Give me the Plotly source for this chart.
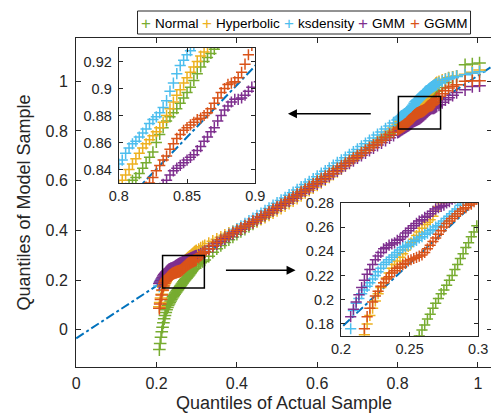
import plotly.graph_objects as go

# sorted quantiles of the actual sample (same x for every model)
actual_q = [0.207, 0.209, 0.211, 0.213, 0.215, 0.217, 0.219, 0.221, 0.223, 0.225,
            0.227, 0.229, 0.231, 0.233, 0.235, 0.237, 0.239, 0.241, 0.243, 0.245,
            0.247, 0.249, 0.251, 0.253, 0.255, 0.257, 0.259, 0.261, 0.263, 0.265,
            0.267, 0.269, 0.271, 0.273, 0.275, 0.277, 0.279, 0.281, 0.283, 0.285,
            0.287, 0.289, 0.291, 0.293, 0.295, 0.297, 0.299,
            0.305, 0.31, 0.315, 0.32, 0.33, 0.34, 0.35, 0.36, 0.37, 0.38, 0.39, 0.40,
            0.41, 0.42, 0.43, 0.44, 0.45, 0.46, 0.47, 0.48, 0.49, 0.50,
            0.51, 0.52, 0.53, 0.54, 0.55, 0.56, 0.57, 0.58, 0.59, 0.60,
            0.61, 0.62, 0.63, 0.64, 0.65, 0.66, 0.67, 0.68, 0.69, 0.70,
            0.71, 0.72, 0.73, 0.74, 0.75, 0.76, 0.77, 0.78, 0.79,
            0.8000, 0.8025, 0.8050, 0.8075, 0.8100, 0.8125, 0.8150, 0.8175, 0.8200, 0.8225,
            0.8250, 0.8275, 0.8300, 0.8325, 0.8350, 0.8375, 0.8400, 0.8425, 0.8450, 0.8475,
            0.8500, 0.8525, 0.8550, 0.8575, 0.8600, 0.8625, 0.8650, 0.8675, 0.8700, 0.8725,
            0.8750, 0.8775, 0.8800, 0.8825, 0.8850, 0.8875, 0.8900, 0.8925, 0.8950, 0.8975,
            0.903, 0.911, 0.919, 0.927, 0.937, 0.947, 0.968, 0.986, 1.004]

# quantiles of each model sample
normal_q = [-0.080, -0.055, -0.030, -0.008, 0.010, 0.028, 0.044, 0.057, 0.069, 0.080,
            0.089, 0.097, 0.104, 0.110, 0.116, 0.122, 0.128, 0.133, 0.138, 0.143,
            0.148, 0.152, 0.157, 0.161, 0.166, 0.170, 0.175, 0.179, 0.184, 0.188,
            0.193, 0.197, 0.201, 0.205, 0.208, 0.212, 0.216, 0.220, 0.225, 0.229,
            0.234, 0.238, 0.243, 0.247, 0.252, 0.256, 0.261,
            0.267, 0.270, 0.275, 0.281, 0.296, 0.312, 0.326, 0.339, 0.351, 0.362, 0.373, 0.384,
            0.395, 0.405, 0.416, 0.426, 0.437, 0.447, 0.458, 0.469, 0.479, 0.490,
            0.501, 0.511, 0.522, 0.533, 0.544, 0.554, 0.565, 0.576, 0.586, 0.597,
            0.607, 0.618, 0.628, 0.639, 0.650, 0.660, 0.671, 0.681, 0.692, 0.702,
            0.713, 0.724, 0.735, 0.746, 0.757, 0.768, 0.779, 0.790, 0.801,
            0.818, 0.822, 0.826, 0.829, 0.832, 0.834, 0.837, 0.841, 0.845, 0.849,
            0.853, 0.860, 0.866, 0.871, 0.876, 0.879, 0.882, 0.885, 0.889, 0.893,
            0.897, 0.901, 0.906, 0.911, 0.916, 0.920, 0.923, 0.926, 0.929, 0.933,
            0.937, 0.941, 0.945, 0.949, 0.952, 0.955, 0.958, 0.960, 0.961, 0.962,
            0.964, 0.975, 0.995, 1.013, 1.016, 1.020, 1.066, 1.069, 1.073]

hyperbolic_q = [0.092, 0.110, 0.128, 0.143, 0.158, 0.171, 0.180, 0.187, 0.193, 0.199,
                0.205, 0.210, 0.214, 0.218, 0.222, 0.226, 0.229, 0.232, 0.235, 0.238,
                0.241, 0.244, 0.247, 0.250, 0.253, 0.256, 0.259, 0.262, 0.264, 0.266,
                0.269, 0.273, 0.277, 0.280, 0.283, 0.286, 0.289, 0.292, 0.295, 0.298,
                0.301, 0.304, 0.307, 0.310, 0.313, 0.315, 0.318,
                0.323, 0.329, 0.334, 0.338, 0.347, 0.356, 0.364, 0.372, 0.380, 0.388, 0.395, 0.402,
                0.409, 0.416, 0.423, 0.430, 0.437, 0.445, 0.453, 0.462, 0.471, 0.480,
                0.489, 0.499, 0.509, 0.519, 0.529, 0.540, 0.551, 0.561, 0.572, 0.583,
                0.593, 0.604, 0.615, 0.626, 0.637, 0.648, 0.661, 0.674, 0.686, 0.698,
                0.710, 0.722, 0.735, 0.747, 0.760, 0.773, 0.786, 0.799, 0.812,
                0.828, 0.832, 0.836, 0.840, 0.844, 0.848, 0.852, 0.856, 0.859, 0.862,
                0.865, 0.868, 0.871, 0.875, 0.880, 0.885, 0.890, 0.895, 0.899, 0.904,
                0.908, 0.912, 0.916, 0.920, 0.924, 0.927, 0.931, 0.935, 0.940, 0.945,
                0.950, 0.955, 0.961, 0.966, 0.972, 0.977, 0.982, 0.986, 0.991, 0.994,
                0.998, 1.004, 1.008, 1.012, 1.016, 1.020, 1.028, 1.036, 1.045]

ksdensity_q = [0.176, 0.191, 0.197, 0.201, 0.205, 0.208, 0.211, 0.214, 0.217, 0.220,
               0.223, 0.226, 0.229, 0.231, 0.233, 0.235, 0.237, 0.239, 0.241, 0.243,
               0.244, 0.245, 0.246, 0.248, 0.249, 0.251, 0.252, 0.254, 0.255, 0.257,
               0.258, 0.260, 0.261, 0.263, 0.265, 0.267, 0.269, 0.271, 0.273, 0.275,
               0.278, 0.280, 0.282, 0.284, 0.286, 0.288, 0.290,
               0.297, 0.303, 0.309, 0.315, 0.327, 0.339, 0.350, 0.361, 0.372, 0.383, 0.394, 0.404,
               0.415, 0.425, 0.436, 0.446, 0.457, 0.467, 0.478, 0.488, 0.499, 0.509,
               0.520, 0.530, 0.541, 0.551, 0.562, 0.573, 0.584, 0.594, 0.605, 0.616,
               0.627, 0.638, 0.649, 0.660, 0.671, 0.681, 0.692, 0.703, 0.714, 0.725,
               0.737, 0.748, 0.760, 0.772, 0.784, 0.796, 0.808, 0.820, 0.832,
               0.844, 0.847, 0.852, 0.856, 0.859, 0.861, 0.864, 0.867, 0.870, 0.874,
               0.877, 0.879, 0.882, 0.886, 0.891, 0.898, 0.904, 0.911, 0.917, 0.921,
               0.925, 0.928, 0.932, 0.936, 0.939, 0.944, 0.948, 0.953, 0.957, 0.960,
               0.963, 0.967, 0.970, 0.973, 0.976, 0.979, 0.981, 0.984, 0.986, 0.989,
               0.993, 0.999, 1.006, 1.010, 1.014, 1.019, 1.026, 1.032, 1.038]

gmm_q = [0.186, 0.192, 0.198, 0.204, 0.210, 0.216, 0.221, 0.225, 0.229, 0.233,
         0.236, 0.239, 0.242, 0.243, 0.245, 0.246, 0.247, 0.249, 0.250, 0.252,
         0.255, 0.257, 0.259, 0.261, 0.263, 0.265, 0.266, 0.268, 0.269, 0.271,
         0.273, 0.275, 0.276, 0.277, 0.278, 0.280, 0.281, 0.283, 0.284, 0.286,
         0.287, 0.289, 0.290, 0.292, 0.293, 0.295, 0.296,
         0.300, 0.305, 0.310, 0.315, 0.325, 0.336, 0.346, 0.356, 0.366, 0.376, 0.386, 0.395,
         0.404, 0.413, 0.423, 0.432, 0.442, 0.451, 0.461, 0.470, 0.480, 0.489,
         0.499, 0.508, 0.518, 0.528, 0.538, 0.548, 0.558, 0.568, 0.578, 0.588,
         0.598, 0.608, 0.619, 0.629, 0.640, 0.650, 0.661, 0.671, 0.681, 0.692,
         0.702, 0.712, 0.722, 0.733, 0.743, 0.753, 0.763, 0.773, 0.783,
         0.795, 0.797, 0.800, 0.803, 0.806, 0.808, 0.811, 0.813, 0.816, 0.818,
         0.821, 0.823, 0.826, 0.829, 0.832, 0.836, 0.839, 0.841, 0.843, 0.845,
         0.847, 0.849, 0.851, 0.854, 0.857, 0.861, 0.864, 0.868, 0.871, 0.876,
         0.880, 0.884, 0.887, 0.890, 0.892, 0.892, 0.893, 0.895, 0.898, 0.901,
         0.905, 0.915, 0.926, 0.934, 0.944, 0.955, 0.966, 0.979, 0.982]

ggmm_q = [0.086, 0.104, 0.122, 0.140, 0.160, 0.176, 0.186, 0.193, 0.198, 0.203,
          0.207, 0.211, 0.214, 0.217, 0.219, 0.222, 0.224, 0.226, 0.227, 0.229,
          0.230, 0.232, 0.233, 0.234, 0.235, 0.236, 0.237, 0.239, 0.242, 0.245,
          0.248, 0.251, 0.254, 0.257, 0.260, 0.263, 0.265, 0.267, 0.269, 0.271,
          0.273, 0.275, 0.276, 0.278, 0.279, 0.281, 0.283,
          0.292, 0.301, 0.308, 0.314, 0.326, 0.339, 0.351, 0.362, 0.372, 0.381, 0.390, 0.399,
          0.408, 0.417, 0.426, 0.436, 0.445, 0.455, 0.464, 0.474, 0.484, 0.494,
          0.504, 0.514, 0.524, 0.534, 0.544, 0.554, 0.564, 0.575, 0.585, 0.596,
          0.606, 0.616, 0.627, 0.637, 0.648, 0.658, 0.669, 0.679, 0.690, 0.700,
          0.711, 0.721, 0.732, 0.742, 0.753, 0.763, 0.774, 0.785, 0.795,
          0.806, 0.808, 0.811, 0.813, 0.816, 0.818, 0.821, 0.824, 0.827, 0.830,
          0.834, 0.839, 0.843, 0.847, 0.850, 0.855, 0.859, 0.863, 0.866, 0.869,
          0.871, 0.873, 0.875, 0.877, 0.878, 0.880, 0.882, 0.885, 0.889, 0.893,
          0.897, 0.900, 0.903, 0.904, 0.905, 0.908, 0.912, 0.918, 0.925, 0.932,
          0.940, 0.950, 0.962, 0.973, 0.980, 0.986, 1.000, 1.002, 1.002]

model_names = ["Normal", "Hyperbolic", "ksdensity", "GMM", "GGMM"]
model_colors = ["#77AC30", "#EDB120", "#4DBEEE", "#7E2F8E", "#D95319"]
model_data = [normal_q, hyperbolic_q, ksdensity_q, gmm_q, ggmm_q]

# reference line through the quartiles
ref_x = [0.0, 1.035]
ref_y = [-0.0345, 1.0595]

# zoom boxes drawn on the main axes: x0, x1, y0, y1
box_hi = [0.802, 0.907, 0.808, 0.939]
box_lo = [0.215, 0.319, 0.168, 0.299]

FONT = "Liberation Sans, Arial, Helvetica, sans-serif"
INK = "#262626"

fig = go.Figure()

# main axes + two insets
for xa, ya, msize in [("x", "y", 9), ("x2", "y2", 8), ("x3", "y3", 8)]:
    fig.add_trace(go.Scatter(x=ref_x, y=ref_y, mode="lines", xaxis=xa, yaxis=ya,
                             line=dict(color="#0072BD", width=2, dash="dashdot"),
                             showlegend=False, hoverinfo="skip"))
    for name, c, q in zip(model_names, model_colors, model_data):
        fig.add_trace(go.Scatter(x=actual_q, y=q, mode="markers", name=name,
                                 xaxis=xa, yaxis=ya, showlegend=False,
                                 marker=dict(symbol="cross-thin", size=msize, color=c,
                                             line=dict(color=c, width=1.5))))

def ax(**kw):
    d = dict(showline=True, linecolor=INK, linewidth=1, mirror="ticks",
             ticks="inside", ticklen=5, tickcolor=INK, showgrid=False,
             zeroline=False, tickfont=dict(family=FONT, size=16, color=INK))
    d.update(kw)
    return d

small = dict(family=FONT, size=14.5, color=INK)

fig.update_layout(
    width=499, height=417,
    margin=dict(l=68, r=5, t=30, b=58),
    paper_bgcolor="white", plot_bgcolor="white",
    showlegend=False,
    xaxis=ax(range=[-0.0005, 1.035], tick0=0, dtick=0.2, ticklabelstandoff=2,
             title=dict(text="Quantiles of Actual Sample", standoff=5,
                        font=dict(family=FONT, size=18, color=INK))),
    yaxis=ax(range=[-0.15, 1.174], tick0=0, dtick=0.2, ticklabelstandoff=4,
             title=dict(text="Quantiles of Model Sample", standoff=10,
                        font=dict(family=FONT, size=18, color=INK))),
    xaxis2=ax(domain=[0.1026, 0.4312], range=[0.7999, 0.9001], tick0=0.8, dtick=0.05,
              anchor="y2", ticklen=4, tickfont=small, ticklabelstandoff=0),
    yaxis2=ax(domain=[0.5593, 0.9696], range=[0.83, 0.93], tick0=0.8, dtick=0.02,
              anchor="x2", ticklen=4, tickfont=small, ticklabelstandoff=3),
    xaxis3=ax(domain=[0.6369, 0.9671], range=[0.1999, 0.3001], tick0=0.2, dtick=0.05,
              anchor="y3", ticklen=4, tickfont=small, ticklabelstandoff=0),
    yaxis3=ax(domain=[0.0942, 0.4994], range=[0.17, 0.2801], tick0=0.1, dtick=0.02,
              anchor="x3", ticklen=4, tickfont=small, ticklabelstandoff=3),
)

# zoom boxes
for b in (box_hi, box_lo):
    fig.add_shape(type="rect", xref="x", yref="y", x0=b[0], x1=b[1], y0=b[2], y1=b[3],
                  line=dict(color="black", width=1.5))

# arrows from boxes to insets
fig.add_annotation(x=0.527, y=0.869, ax=0.737, ay=0.869, xref="x", yref="y",
                   axref="x", ayref="y", text="", showarrow=True, arrowhead=2,
                   arrowsize=1.2, arrowwidth=1.5, arrowcolor="black")
fig.add_annotation(x=0.546, y=0.239, ax=0.369, ay=0.239, xref="x", yref="y",
                   axref="x", ayref="y", text="", showarrow=True, arrowhead=2,
                   arrowsize=1.2, arrowwidth=1.5, arrowcolor="black")

# legend box on top, drawn by hand to keep MATLAB's compact spacing
W, H = 499, 417
L, R, T, B = 68, 5, 30, 58
pw, ph = W - L - R, H - T - B

def px(x):
    return (x - L) / pw

def py(y):
    return (H - B - y) / ph

fig.add_shape(type="rect", xref="paper", yref="paper",
              x0=px(131), x1=px(472), y0=py(26), y1=py(3),
              line=dict(color=INK, width=1), fillcolor="white")
sym_x = [140, 202, 286, 362, 415]
for sx, name, c in zip(sym_x, model_names, model_colors):
    fig.add_annotation(x=px(sx), y=py(15), xref="paper", yref="paper", text="+",
                       showarrow=False, xanchor="center", yanchor="middle",
                       font=dict(family=FONT, size=17, color=c))
    fig.add_annotation(x=px(sx + 7), y=py(15), xref="paper", yref="paper", text=name,
                       showarrow=False, xanchor="left", yanchor="middle",
                       font=dict(family=FONT, size=13.5, color="black"))

fig.write_html("out.html")
